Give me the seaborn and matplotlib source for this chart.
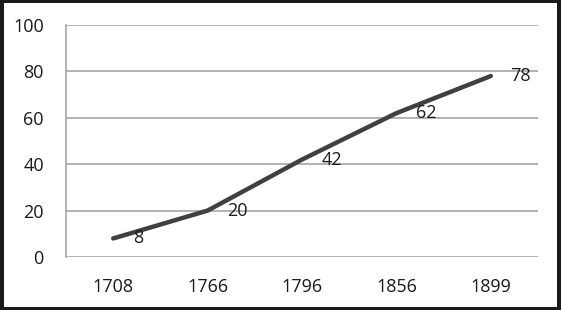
import matplotlib
matplotlib.use("Agg")
import matplotlib.pyplot as plt
import seaborn as sns
import pandas as pd
from matplotlib.patches import Rectangle

# chart data
years = ["1708", "1766", "1796", "1856", "1899"]
values = [8, 20, 42, 62, 78]
y_ticks = [0, 20, 40, 60, 80, 100]

df = pd.DataFrame({"year": years, "value": values})

sns.set_style("white")
plt.rcParams["font.family"] = ["Open Sans", "DejaVu Sans"]

fig = plt.figure(figsize=(5.61, 3.10), dpi=100)
fig.patch.set_facecolor("#1a1a1a")
# white panel inside the dark frame
fig.patches.append(Rectangle((4 / 561, 3 / 310), 553 / 561, 304 / 310,
                             transform=fig.transFigure, facecolor="white",
                             edgecolor="none", zorder=-10))

ax = fig.add_axes([66 / 561, 53 / 310, 472 / 561, 232 / 310])
ax.set_facecolor("none")

sns.lineplot(data=df, x="year", y="value", ax=ax, color="#404040",
             linewidth=3.2, sort=False, solid_capstyle="round")

for i, v in enumerate(values):
    ax.annotate(str(v), (i, v), xytext=(14, 0), textcoords="offset points",
                va="center", ha="left", fontsize=13, color="#1a1a1a")

ax.set_xlim(-0.5, len(years) - 0.5)
ax.set_ylim(0, 100)
ax.set_yticks(y_ticks)
ax.yaxis.grid(True, color="#a6a6a6", linewidth=1.2)
ax.set_axisbelow(True)
for side in ["top", "right", "bottom"]:
    ax.spines[side].set_visible(False)
ax.spines["left"].set_color("#a6a6a6")
ax.spines["left"].set_linewidth(1.2)
ax.tick_params(axis="both", length=0, labelsize=13, colors="#1a1a1a")
ax.tick_params(axis="x", pad=15)
ax.tick_params(axis="y", pad=16)
ax.set_xlabel("")
ax.set_ylabel("")

fig.savefig("out.png", dpi=100, facecolor=fig.get_facecolor())
